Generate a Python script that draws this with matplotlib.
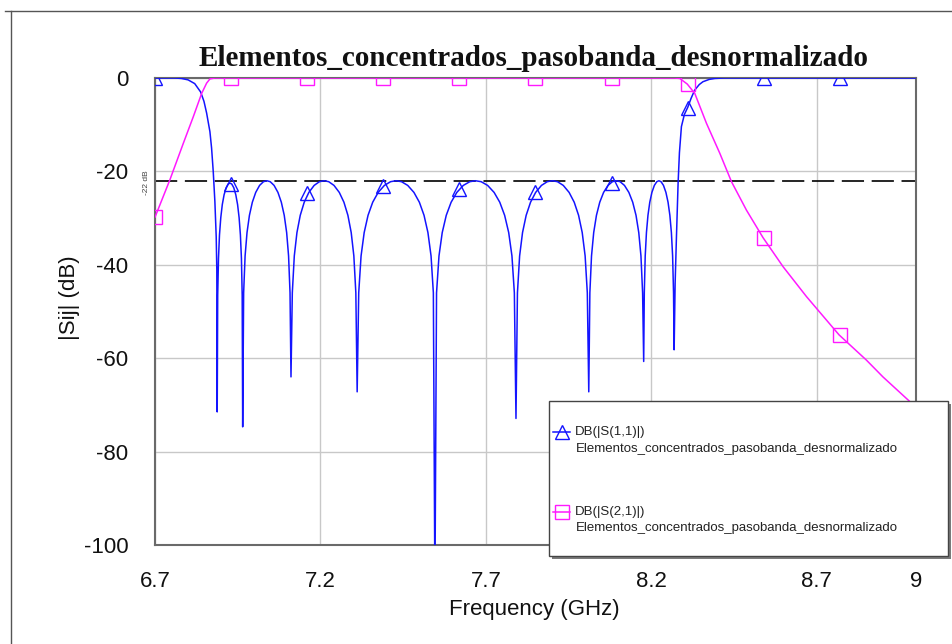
import matplotlib
matplotlib.use("Agg")
import matplotlib.pyplot as plt
from matplotlib.lines import Line2D
from matplotlib.patches import Rectangle

plt.rcParams['font.family'] = ['Liberation Sans', 'DejaVu Sans']
plt.rcParams['axes.unicode_minus'] = False
plt.rcParams['lines.scale_dashes'] = False

# ---------------- data ----------------
title = "Elementos_concentrados_pasobanda_desnormalizado"
x_ticks = [6.7, 7.2, 7.7, 8.2, 8.7, 9.0]
x_tick_labels = ["6.7", "7.2", "7.7", "8.2", "8.7", "9"]
y_ticks = [0, -20, -40, -60, -80, -100]
ref_level = -22

# |S11| in dB (lower skirt, ripple lobes separated by nulls, upper skirt)
s11_freq = [
    6.700, 6.760, 6.780, 6.800, 6.820, 6.838, 6.848, 6.856, 6.866, 6.871, 6.876, 6.881, 6.885, 6.8868,
    6.888,
    6.8895, 6.8919, 6.8949, 6.8988, 6.9034, 6.9088, 6.9150, 6.9211, 6.9265, 6.9319, 6.9381, 6.9442, 6.9496, 6.9542, 6.9581, 6.9612, 6.9635,
    6.965,
    6.9679, 6.9723, 6.9781, 6.9854, 6.9942, 7.0044, 7.0161, 7.0278, 7.0380, 7.0482, 7.0599, 7.0716, 7.0818, 7.0906, 7.0979, 7.1037, 7.1081,
    7.111,
    7.115, 7.121, 7.129, 7.139, 7.151, 7.165, 7.181, 7.197, 7.211, 7.225, 7.241, 7.257, 7.271, 7.283, 7.293, 7.301, 7.307,
    7.311,
    7.3157, 7.3228, 7.3322, 7.3439, 7.3580, 7.3745, 7.3933, 7.4121, 7.4285, 7.4450, 7.4638, 7.4826, 7.4990, 7.5131, 7.5249, 7.5343, 7.5413,
    7.546,
    7.5509, 7.5583, 7.5681, 7.5803, 7.5950, 7.6122, 7.6318, 7.6514, 7.6685, 7.6857, 7.7053, 7.7249, 7.7420, 7.7567, 7.7690, 7.7788, 7.7861,
    7.791,
    7.7954, 7.8020, 7.8108, 7.8218, 7.8350, 7.8504, 7.8680, 7.8856, 7.9010, 7.9164, 7.9340, 7.9516, 7.9670, 7.9802, 7.9912, 8.0000, 8.0066,
    8.011,
    8.0143, 8.0193, 8.0259, 8.0342, 8.0442, 8.0558, 8.0691, 8.0824, 8.0940, 8.1056, 8.1189, 8.1322, 8.1438, 8.1538, 8.1621, 8.1687, 8.1737,
    8.177,
    8.1788, 8.1816, 8.1853, 8.1899, 8.1954, 8.2018, 8.2092, 8.2166, 8.2230, 8.2294, 8.2368, 8.2442, 8.2506, 8.2561, 8.2607, 8.2644, 8.2672,
    8.269,
    8.272, 8.276, 8.281, 8.285, 8.291, 8.300, 8.310, 8.320, 8.331, 8.345, 8.356, 8.375, 8.392, 8.420, 9.000,
]
s11_db = [
    0.0, 0.0, -0.1, -0.4, -1.2, -3.0, -5.0, -7.5, -11.5, -15.0, -20.0, -26.5, -34.0, -41.0,
    -71.5,
    -46.5, -38.6, -33.6, -29.9, -27.1, -25.0, -23.5, -22.7, -22.5, -22.7, -23.5, -25.0, -27.1, -29.9, -33.6, -38.6, -46.5,
    -74.7,
    -46.0, -38.1, -33.1, -29.4, -26.6, -24.5, -23.0, -22.2, -22.0, -22.2, -23.0, -24.5, -26.6, -29.4, -33.1, -38.1, -46.0,
    -64.0,
    -46.0, -38.1, -33.1, -29.4, -26.6, -24.5, -23.0, -22.2, -22.0, -22.2, -23.0, -24.5, -26.6, -29.4, -33.1, -38.1, -46.0,
    -67.2,
    -46.0, -38.1, -33.1, -29.4, -26.6, -24.5, -23.0, -22.2, -22.0, -22.2, -23.0, -24.5, -26.6, -29.4, -33.1, -38.1, -46.0,
    -110.0,
    -46.0, -38.1, -33.1, -29.4, -26.6, -24.5, -23.0, -22.2, -22.0, -22.2, -23.0, -24.5, -26.6, -29.4, -33.1, -38.1, -46.0,
    -72.9,
    -46.0, -38.1, -33.1, -29.4, -26.6, -24.5, -23.0, -22.2, -22.0, -22.2, -23.0, -24.5, -26.6, -29.4, -33.1, -38.1, -46.0,
    -67.2,
    -46.0, -38.1, -33.1, -29.4, -26.6, -24.5, -23.0, -22.2, -22.0, -22.2, -23.0, -24.5, -26.6, -29.4, -33.1, -38.1, -46.0,
    -60.7,
    -46.0, -38.1, -33.1, -29.4, -26.6, -24.5, -23.0, -22.2, -22.0, -22.2, -23.0, -24.5, -26.6, -29.4, -33.1, -38.1, -46.0,
    -58.2,
    -44.0, -34.0, -22.5, -16.0, -10.4, -7.8, -6.3, -4.4, -2.6, -1.4, -0.8, -0.3, -0.1, 0.0, 0.0,
]

# |S21| in dB
s21_freq = [6.700, 6.745, 6.7855, 6.8157, 6.841, 6.856, 6.866, 6.881,
            8.270, 8.286, 8.3087, 8.3314, 8.3667, 8.4069, 8.4423, 8.4876,
            8.5378, 8.5982, 8.6689, 8.7674, 8.850, 8.900, 9.000]
s21_db = [-29.8, -21.8, -14.0, -8.3, -3.3, -1.1, -0.2, 0.0,
          0.0, -0.1, -1.3, -3.3, -9.7, -16.1, -22.2, -28.3,
          -34.2, -40.4, -46.8, -55.0, -60.4, -64.0, -70.5]

# marker positions (every tenth of the sweep)
marker_freq = [6.70, 6.93, 7.16, 7.39, 7.62, 7.85, 8.08, 8.31, 8.54, 8.77]
s11_marker_db = [0.0, -22.6, -24.6, -23.2, -23.8, -24.5, -22.4, -6.5, 0.0, 0.0]
s21_marker_db = [-29.8, 0.0, 0.0, 0.0, 0.0, 0.0, 0.0, -1.3, -34.2, -55.0]

legend_names = ["DB(|S(1,1)|)", "DB(|S(2,1)|)"]

# ---------------- figure ----------------
W, H = 953, 644
fig = plt.figure(figsize=(W / 100, H / 100), dpi=100)
fig.patch.set_facecolor("white")


def fx(px):
    return px / W


def fy(py):
    return 1 - py / H


ax = fig.add_axes([fx(155), fy(545), fx(916) - fx(155), fy(78) - fy(545)])
ax.set_xlim(6.7, 9.0)
ax.set_ylim(-100, 0)

blue = "#1414ff"
magenta = "#ff19ff"

ax.plot(s11_freq, s11_db, color=blue, lw=1.1, zorder=3)
ax.plot(s21_freq, s21_db, color=magenta, lw=1.1, zorder=3)
ax.plot(marker_freq, s11_marker_db, ls="none", marker="^", ms=9.5, mfc="none",
        mec=blue, mew=1.0, zorder=4)
ax.plot(marker_freq, s21_marker_db, ls="none", marker="s", ms=10, mfc="none",
        mec=magenta, mew=1.0, zorder=4)

ax.axhline(ref_level, color="black", lw=1.2, dashes=(16, 5.5), zorder=2)

ax.set_xticks(x_ticks)
ax.set_xticklabels(x_tick_labels)
ax.set_yticks(y_ticks)
ax.set_yticklabels([str(v) for v in y_ticks])
ax.tick_params(length=0, pad=19, labelsize=16, colors="#111111")
ax.grid(True, color="#c8c8c8", lw=1.0, zorder=0)
ax.set_axisbelow(True)
for s in ax.spines.values():
    s.set_color("#6a6a6a")
    s.set_linewidth(1.5)
    s.set_zorder(2.5)

# reference level tag
fig.text(fx(147), fy(183), "-22 dB", rotation=90, fontsize=6, color="#444444",
         ha="center", va="center")

# titles
fig.text(fx(534), fy(66), title, ha="center", va="baseline", fontsize=21,
         fontweight="bold", family=["Liberation Serif", "DejaVu Serif"], color="#111111")
fig.text(fx(70), fy(298), "|Sij| (dB)", rotation=90, ha="center", va="center",
         fontsize=16, color="#111111")
fig.text(fx(534), fy(610), "Frequency (GHz)", ha="center", va="center",
         fontsize=16, color="#111111")

# outer frame
fig.add_artist(Line2D([fx(5), 1.0], [fy(11), fy(11)], color="#555555", lw=1.0,
                      transform=fig.transFigure))
fig.add_artist(Line2D([fx(11), fx(11)], [fy(11), 0.0], color="#555555", lw=1.0,
                      transform=fig.transFigure))

# legend box with shadow
lx0, ly0, lx1, ly1 = 549, 401, 948, 556
fig.add_artist(Rectangle((fx(lx0 + 3), fy(ly1 + 3)), fx(lx1) - fx(lx0), fy(ly0) - fy(ly1),
                         transform=fig.transFigure, facecolor="#7a7a7a", edgecolor="none",
                         zorder=10))
fig.add_artist(Rectangle((fx(lx0), fy(ly1)), fx(lx1) - fx(lx0), fy(ly0) - fy(ly1),
                         transform=fig.transFigure, facecolor="white", edgecolor="#444444",
                         lw=1.0, zorder=11))

entries = [(legend_names[0], blue, "^", 9.5, 432, 449),
           (legend_names[1], magenta, "s", 10, 512, 528)]
for name, col, mk, ms, y1, y2 in entries:
    fig.add_artist(Line2D([fx(553), fx(570)], [fy(y1), fy(y1)], color=col, lw=1.1,
                          transform=fig.transFigure, zorder=12))
    fig.add_artist(Line2D([fx(561.5)], [fy(y1)], color=col, marker=mk, ms=ms, mfc="none",
                          mec=col, mew=1.0, ls="none", transform=fig.transFigure, zorder=12))
    fig.text(fx(575), fy(y1), name, ha="left", va="center", fontsize=9.5,
             color="#222222", zorder=13)
    fig.text(fx(576), fy(y2), title, ha="left", va="center", fontsize=9.5,
             color="#222222", zorder=13)

fig.savefig("out.png", dpi=100, facecolor="white")
